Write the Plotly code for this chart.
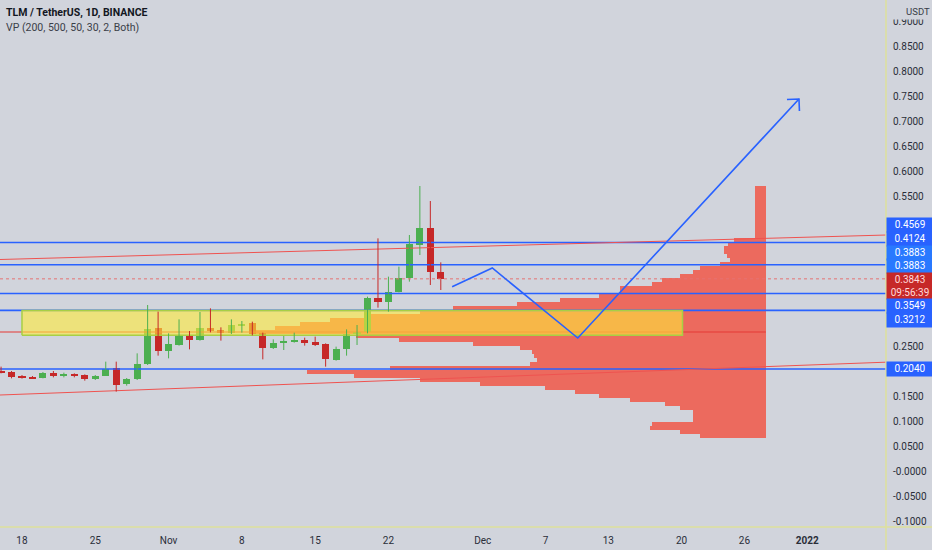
import numpy as np
import pandas as pd
import plotly.graph_objects as go

# ---------------- data ----------------
candle_dates = pd.date_range("2021-10-16", "2021-11-27", freq="D")
opens = [0.1993, 0.1973, 0.1900, 0.1880, 0.1867, 0.1967, 0.1907, 0.1927, 0.1920, 0.1833,
         0.1907, 0.2067, 0.1733, 0.1833, 0.2133, 0.2867,
         0.2400, 0.2520, 0.2707, 0.2627, 0.2867, 0.2820, 0.2753, 0.2913, 0.2953, 0.2753,
         0.2467, 0.2560, 0.2580, 0.2613, 0.2587, 0.2533, 0.2227, 0.2440, 0.2747, 0.2773,
         0.3467, 0.3387, 0.3587, 0.3853, 0.4520, 0.4853, 0.3987]
highs = [0.2087, 0.2000, 0.1920, 0.1900, 0.1980, 0.2000, 0.1967, 0.1953, 0.1933, 0.1920,
         0.2187, 0.2187, 0.1860, 0.2353, 0.3320, 0.3187,
         0.2753, 0.3033, 0.2800, 0.3180, 0.3253, 0.2873, 0.3033, 0.3000, 0.2987, 0.2767,
         0.2633, 0.2700, 0.2767, 0.2667, 0.2687, 0.2553, 0.2487, 0.2833, 0.2920, 0.3487,
         0.4653, 0.3887, 0.4087, 0.4720, 0.5700, 0.5400, 0.4173]
lows = [0.1953, 0.1853, 0.1847, 0.1840, 0.1853, 0.1873, 0.1873, 0.1873, 0.1807, 0.1820,
        0.1900, 0.1587, 0.1707, 0.1820, 0.2120, 0.2307,
        0.2253, 0.2507, 0.2433, 0.2607, 0.2773, 0.2607, 0.2740, 0.2767, 0.2713, 0.2233,
        0.2440, 0.2420, 0.2567, 0.2507, 0.2500, 0.2087, 0.2207, 0.2307, 0.2520, 0.2753,
        0.3267, 0.3187, 0.3573, 0.3787, 0.4320, 0.3720, 0.3620]
closes = [0.1960, 0.1887, 0.1867, 0.1853, 0.1967, 0.1907, 0.1927, 0.1907, 0.1833, 0.1907,
          0.2040, 0.1720, 0.1840, 0.2140, 0.2840, 0.2400,
          0.2533, 0.2707, 0.2620, 0.2867, 0.2807, 0.2753, 0.2920, 0.2947, 0.2740, 0.2467,
          0.2560, 0.2593, 0.2600, 0.2553, 0.2520, 0.2233, 0.2440, 0.2747, 0.2773, 0.3453,
          0.3387, 0.3587, 0.3853, 0.4533, 0.4853, 0.3987, 0.3843]

last_price = 0.3843
countdown = "09:56:39"

level_prices = [0.4569, 0.4124, 0.3549, 0.3212, 0.2040]

# volume profile: bins from bottom to top, relative volume (in bar-days of width)
vp_bin_low = 0.066
vp_bin_size = 0.008
vp_volume = [6.3, 8.2, 11.1, 10.9, 7.0, 7.0, 7.0, 8.2, 9.6, 13.0,
             15.9, 18.2, 21.1, 27.3, 33.0, 39.3, 43.8, 35.9, 22.5, 21.9,
             22.1, 22.3, 23.5, 28.0, 35.0, 39.1, 48.8, 46.9, 44.5, 41.6,
             38.3, 33.0, 29.9, 23.8, 19.7, 15.9, 13.9, 13.9, 10.9, 9.9,
             8.2, 7.0, 6.3, 4.4, 3.4, 3.7, 4.0, 4.0, 3.6, 3.0,
             1.0, 1.0, 1.0, 1.0, 1.0, 1.0, 1.0, 1.0, 1.0, 1.0, 1.0, 1.0, 1.0]
vp_anchor_date = "2021-12-28 01:00"

zone_dates = ["2021-10-18", "2021-12-20 02:00"]
zone_prices = [0.2715, 0.3212]

forecast_dates = ["2021-11-28 02:00", "2021-12-01 22:00", "2021-12-10 02:00", "2021-12-31 05:00"]
forecast_prices = [0.3686, 0.4060, 0.2660, 0.7440]

trend_upper_dates = ["2021-10-18", "2022-01-01"]
trend_upper_prices = [0.4242, 0.4676]
trend_lower_dates = ["2021-10-18", "2022-01-01"]
trend_lower_prices = [0.1536, 0.2118]

tick_dates = ["2021-10-18", "2021-10-25", "2021-11-01", "2021-11-08", "2021-11-15", "2021-11-22",
              "2021-12-01", "2021-12-07", "2021-12-13", "2021-12-20", "2021-12-26", "2022-01-01"]
tick_text = ["18", "25", "Nov", "8", "15", "22", "Dec", "7", "13", "20", "26", "<b>2022</b>"]

ytick_vals = [0.90, 0.85, 0.80, 0.75, 0.70, 0.65, 0.60, 0.55, 0.25, 0.15, 0.10, 0.05, 0.0, -0.05, -0.10]
ytick_text = ["0.9000", "0.8500", "0.8000", "0.7500", "0.7000", "0.6500", "0.6000", "0.5500",
              "0.2500", "0.1500", "0.1000", "0.0500", "-0.0000", "-0.0500", "-0.1000"]

stack_labels = ["0.4569", "0.4124", "0.3883", "0.3883",
                f"{last_price:.4f}<br>{countdown}", "0.3549", "0.3212"]

# ---------------- styling / layout constants ----------------
BG = "#D1D4DC"
BLUE = "#2962FF"
BLUE2 = "#2979FF"
GREEN = "#4CAF50"
RED = "#C62828"
VP_RED = "#EC6A5E"
W, H = 932, 550
ML, MR, MT, MB = 0, 46, 0, 23
PLOT_W, PLOT_H = W - ML - MR, H - MT - MB
ORIGIN = pd.Timestamp("2021-10-18")
XR = [-2.10, 82.52]
YR = [-0.112, 0.942]
px_per_day = PLOT_W / (XR[1] - XR[0])
px_per_unit = PLOT_H / (YR[1] - YR[0])
BODY_W = 0.68
MIN_BODY = 1.6 / px_per_unit


def dnum(d):
    return (pd.Timestamp(d) - ORIGIN) / pd.Timedelta(days=1)


def px_to_price(py):
    return YR[1] - py / px_per_unit


cx = [dnum(d) for d in candle_dates]

fig = go.Figure()

# volume profile (horizontal bars extending left from anchor)
anchor = dnum(vp_anchor_date)
centers = [vp_bin_low + (i + 0.5) * vp_bin_size for i in range(len(vp_volume))]
fig.add_trace(go.Bar(y=centers, x=[-v for v in vp_volume], base=anchor, orientation="h",
                     width=vp_bin_size, marker=dict(color=VP_RED, line=dict(width=0)),
                     hoverinfo="skip", showlegend=False))

# POC line
poc = centers[int(np.argmax(vp_volume))]
fig.add_trace(go.Scatter(x=[XR[0], anchor], y=[poc, poc], mode="lines",
                         line=dict(color="#E53935", width=1), hoverinfo="skip", showlegend=False))

# horizontal levels
for p in level_prices:
    fig.add_trace(go.Scatter(x=[XR[0], XR[1]], y=[p, p], mode="lines",
                             line=dict(color=BLUE, width=1.6), hoverinfo="skip", showlegend=False))

# trend lines (extended)
for dts, prs in [(trend_upper_dates, trend_upper_prices), (trend_lower_dates, trend_lower_prices)]:
    x0, x1 = dnum(dts[0]), dnum(dts[1])
    slope = (prs[1] - prs[0]) / (x1 - x0)
    fig.add_trace(go.Scatter(x=[XR[0], XR[1]],
                             y=[prs[0] + slope * (XR[0] - x0), prs[0] + slope * (XR[1] - x0)],
                             mode="lines", line=dict(color="#EF5350", width=1),
                             hoverinfo="skip", showlegend=False))

# zone rectangle
zx0, zx1 = dnum(zone_dates[0]), dnum(zone_dates[1])
fig.add_trace(go.Scatter(x=[zx0, zx1, zx1, zx0, zx0],
                         y=[zone_prices[0], zone_prices[0], zone_prices[1], zone_prices[1], zone_prices[0]],
                         mode="lines", fill="toself", fillcolor="rgba(255,235,59,0.6)",
                         line=dict(color="#A8CF45", width=1.5), hoverinfo="skip", showlegend=False))

# candles: wicks + bodies
for up, col in [(True, GREEN), (False, RED)]:
    idx = [i for i in range(len(opens)) if (closes[i] >= opens[i]) == up]
    wx, wy = [], []
    for i in idx:
        wx += [cx[i], cx[i], None]
        wy += [lows[i], highs[i], None]
    fig.add_trace(go.Scatter(x=wx, y=wy, mode="lines", line=dict(color=col, width=1),
                             hoverinfo="skip", showlegend=False))
    fig.add_trace(go.Bar(x=[cx[i] for i in idx],
                         y=[max(abs(closes[i] - opens[i]), MIN_BODY) for i in idx],
                         base=[min(opens[i], closes[i]) for i in idx],
                         width=BODY_W, marker=dict(color=col, line=dict(width=0)),
                         hoverinfo="skip", showlegend=False))

# current price dotted line
fig.add_trace(go.Scatter(x=[XR[0], XR[1]], y=[last_price, last_price], mode="lines",
                         line=dict(color="#E57373", width=1, dash="dot"),
                         hoverinfo="skip", showlegend=False))

# forecast path
fx = [dnum(d) for d in forecast_dates]
fig.add_trace(go.Scatter(x=fx, y=forecast_prices, mode="lines",
                         line=dict(color=BLUE, width=1.6), hoverinfo="skip", showlegend=False))
# arrow head computed from last segment direction
dxp = (fx[-1] - fx[-2]) * px_per_day
dyp = (forecast_prices[-1] - forecast_prices[-2]) * px_per_unit
ln = np.hypot(dxp, dyp)
ux, uy = -dxp / ln, -dyp / ln
arm = 12
hx, hy = [], []
for ang in (np.pi / 4, -np.pi / 4):
    rx = ux * np.cos(ang) - uy * np.sin(ang)
    ry = ux * np.sin(ang) + uy * np.cos(ang)
    hx.append(fx[-1] + rx * arm / px_per_day)
    hy.append(forecast_prices[-1] + ry * arm / px_per_unit)
fig.add_trace(go.Scatter(x=[hx[0], fx[-1], hx[1]], y=[hy[0], forecast_prices[-1], hy[1]],
                         mode="lines", line=dict(color=BLUE, width=1.6),
                         hoverinfo="skip", showlegend=False))

# ---------------- annotations ----------------
ann = []
ann.append(dict(xref="paper", yref="paper", x=0, y=1, xanchor="left", yanchor="top",
                xshift=4, yshift=-4, showarrow=False,
                text="<b>TLM / TetherUS, 1D, BINANCE</b>",
                font=dict(family="Roboto", size=10.5, color="#131722")))
ann.append(dict(xref="paper", yref="paper", x=0, y=1, xanchor="left", yanchor="top",
                xshift=4, yshift=-19, showarrow=False,
                text="VP (200, 500, 50, 30, 2, Both)",
                font=dict(family="Roboto", size=10.5, color="#3a3e48")))
ann.append(dict(xref="paper", yref="paper", x=1, y=1, xanchor="left", yanchor="top",
                xshift=2, yshift=-3, showarrow=False, text="USDT", bgcolor=BG,
                width=40, height=13, align="right",
                font=dict(family="Roboto", size=9.5, color="#3a3e48")))

stack_top_px = 217
box_h = 13.8
cur = stack_top_px
for t in stack_labels:
    two = "<br>" in t
    h = box_h * 2 - 1.6 if two else box_h
    color = RED if two else (BLUE2 if t == "0.3883" else BLUE)
    ann.append(dict(xref="paper", yref="y", x=1, y=px_to_price(cur), xanchor="left", yanchor="top",
                    showarrow=False, text=t, bgcolor=color, width=46, height=h, borderpad=0,
                    align="center", valign="middle",
                    font=dict(family="Roboto", size=10, color="#ffffff" if not two else "#ffd9d9")))
    cur += h
ann.append(dict(xref="paper", yref="y", x=1, y=level_prices[-1], xanchor="left", yanchor="middle",
                showarrow=False, text=f"{level_prices[-1]:.4f}", bgcolor=BLUE, width=46, height=box_h,
                borderpad=0, align="center", valign="middle",
                font=dict(family="Roboto", size=10, color="#ffffff")))

AXC = "#DDE19C"
shapes = [
    dict(type="line", xref="paper", yref="paper", x0=1, x1=1, y0=-0.06, y1=1,
         line=dict(color=AXC, width=1.5)),
    dict(type="line", xref="paper", yref="paper", x0=0, x1=W / PLOT_W, y0=0, y1=0,
         line=dict(color=AXC, width=1.5)),
]

fig.update_layout(
    width=W, height=H, margin=dict(l=ML, r=MR, t=MT, b=MB),
    paper_bgcolor=BG, plot_bgcolor=BG,
    showlegend=False, annotations=ann, shapes=shapes,
    barmode="overlay", bargap=0,
    xaxis=dict(range=XR, showgrid=False, zeroline=False,
               tickvals=[dnum(d) for d in tick_dates], ticktext=tick_text, ticks="",
               ticklabelstandoff=6,
               tickfont=dict(family="Roboto", size=10, color="#2a2e39"), fixedrange=True),
    yaxis=dict(range=YR, side="right", showgrid=False, zeroline=False,
               tickvals=ytick_vals, ticktext=ytick_text, ticks="", ticklabelstandoff=6,
               tickfont=dict(family="Roboto", size=10, color="#2a2e39"), fixedrange=True),
)

fig.write_html("out.html", config={"displayModeBar": False},
               post_script="document.body.style.margin='0';document.body.style.background='#D1D4DC';")
